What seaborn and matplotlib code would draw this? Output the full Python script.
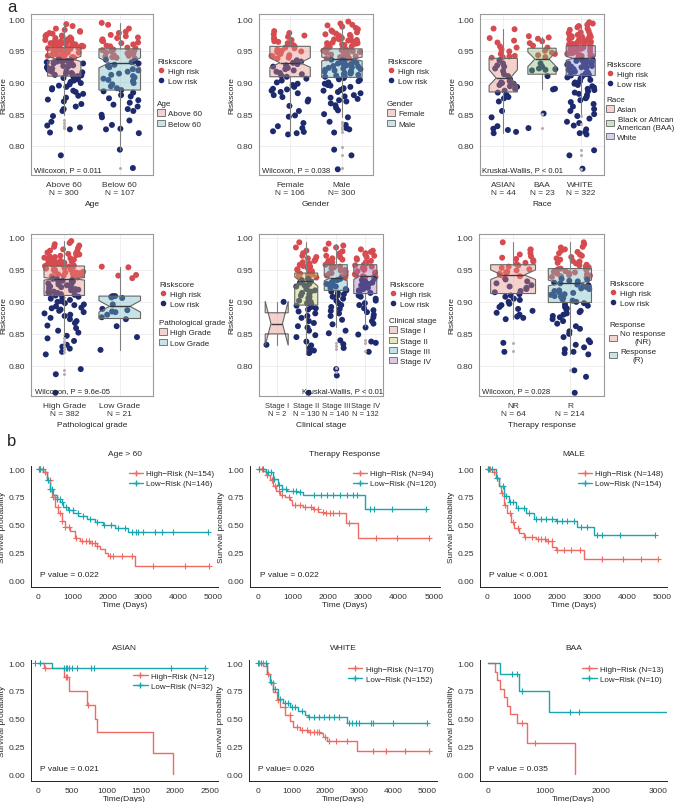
import numpy as np
import pandas as pd
import matplotlib
matplotlib.use("Agg")
import matplotlib.pyplot as plt
from matplotlib.lines import Line2D
from matplotlib.patches import Patch
from matplotlib.colors import to_rgba
import seaborn as sns

sns.set_style("white")
plt.rcParams['font.family'] = ['Liberation Sans', 'DejaVu Sans']
np.random.seed(3)

W, H = 676, 803
RED = '#D64B50'
NAVY = '#1E2A6E'
KM_RED = '#EE6B63'
KM_TEAL = '#1AA6AE'
FS = 6.0

# ---------------- panel a : riskscore points ----------------
above60_hi = [0.992, 0.989, 0.985, 0.983, 0.981, 0.980, 0.978, 0.977, 0.975, 0.974, 0.973, 0.972, 0.971, 0.970,
              0.969, 0.968, 0.967, 0.966, 0.965, 0.965, 0.964, 0.963, 0.962, 0.962, 0.961, 0.960, 0.960, 0.959,
              0.958, 0.958, 0.957, 0.956, 0.956, 0.955, 0.955, 0.954, 0.953, 0.953, 0.952, 0.951, 0.951, 0.950,
              0.949, 0.949, 0.948, 0.947, 0.947, 0.946, 0.945, 0.945, 0.944, 0.943, 0.943, 0.942, 0.941, 0.941,
              0.940, 0.939, 0.939, 0.938]
above60_lo = [0.936, 0.935, 0.935, 0.934, 0.933, 0.933, 0.932, 0.931, 0.930, 0.930, 0.929, 0.928, 0.927, 0.926,
              0.925, 0.924, 0.923, 0.922, 0.921, 0.920, 0.919, 0.918, 0.917, 0.916, 0.915, 0.914, 0.913, 0.912,
              0.911, 0.910, 0.909, 0.907, 0.905, 0.903, 0.901, 0.899, 0.897, 0.895, 0.893, 0.891, 0.889, 0.887,
              0.885, 0.882, 0.879, 0.876, 0.873, 0.870, 0.866, 0.862, 0.858, 0.855, 0.847, 0.838, 0.832, 0.829,
              0.826, 0.821, 0.785]
below60_hi = [0.994, 0.991, 0.985, 0.980, 0.978, 0.975, 0.973, 0.971, 0.970, 0.968, 0.966, 0.965, 0.963, 0.962,
              0.960, 0.958, 0.957, 0.955, 0.954, 0.952, 0.951, 0.950, 0.949, 0.948, 0.947, 0.946, 0.945, 0.944,
              0.943, 0.942, 0.941, 0.940, 0.939, 0.938]
below60_lo = [0.936, 0.934, 0.932, 0.930, 0.928, 0.926, 0.924, 0.921, 0.919, 0.917, 0.914, 0.912, 0.910, 0.908,
              0.906, 0.904, 0.902, 0.899, 0.897, 0.894, 0.891, 0.888, 0.886, 0.884, 0.880, 0.878, 0.875, 0.872,
              0.868, 0.865, 0.862, 0.858, 0.855, 0.849, 0.845, 0.840, 0.833, 0.827, 0.826, 0.820, 0.794, 0.765]

female_hi = [0.981, 0.978, 0.976, 0.974, 0.972, 0.970, 0.969, 0.967, 0.965, 0.964, 0.962, 0.960, 0.959, 0.957,
             0.955, 0.954, 0.952, 0.950, 0.949, 0.948, 0.946, 0.945, 0.943, 0.942, 0.941, 0.939, 0.938]
female_lo = [0.935, 0.933, 0.931, 0.929, 0.927, 0.925, 0.923, 0.921, 0.919, 0.917, 0.915, 0.913, 0.911, 0.909,
             0.906, 0.903, 0.900, 0.898, 0.896, 0.893, 0.890, 0.889, 0.887, 0.885, 0.883, 0.880, 0.877, 0.873,
             0.870, 0.863, 0.855, 0.848, 0.846, 0.836, 0.831, 0.828, 0.823, 0.822, 0.820, 0.818]
male_hi = [0.996, 0.993, 0.991, 0.990, 0.988, 0.986, 0.984, 0.982, 0.980, 0.979, 0.977, 0.976, 0.975, 0.974,
           0.972, 0.971, 0.970, 0.969, 0.968, 0.967, 0.966, 0.965, 0.964, 0.963, 0.962, 0.961, 0.960, 0.959,
           0.958, 0.957, 0.956, 0.955, 0.954, 0.953, 0.952, 0.951, 0.950, 0.949, 0.948, 0.947, 0.946, 0.945,
           0.944, 0.943, 0.942, 0.941, 0.940, 0.939, 0.938, 0.938, 0.968, 0.962, 0.956, 0.950, 0.944]
male_lo = [0.936, 0.935, 0.934, 0.933, 0.932, 0.931, 0.930, 0.929, 0.928, 0.927, 0.926, 0.925, 0.924, 0.923,
           0.922, 0.921, 0.920, 0.919, 0.918, 0.917, 0.916, 0.915, 0.914, 0.913, 0.912, 0.911, 0.910, 0.909,
           0.907, 0.905, 0.904, 0.902, 0.900, 0.898, 0.896, 0.895, 0.893, 0.891, 0.890, 0.888, 0.887, 0.885,
           0.883, 0.880, 0.878, 0.876, 0.874, 0.872, 0.870, 0.867, 0.864, 0.860, 0.856, 0.850, 0.845, 0.838,
           0.833, 0.828, 0.826, 0.821, 0.794, 0.785, 0.763]

asian_hi = [0.985, 0.984, 0.970, 0.966, 0.963, 0.957, 0.955, 0.952, 0.949, 0.945, 0.942, 0.941, 0.940, 0.939]
asian_lo = [0.935, 0.930, 0.927, 0.925, 0.922, 0.918, 0.913, 0.910, 0.905, 0.902, 0.900, 0.899, 0.898, 0.896,
            0.894, 0.893, 0.890, 0.887, 0.884, 0.880, 0.877, 0.875, 0.870, 0.855, 0.845, 0.831, 0.827, 0.825,
            0.822, 0.820]
baa_hi = [0.973, 0.971, 0.969, 0.965, 0.962, 0.958, 0.955, 0.950, 0.947, 0.945, 0.943, 0.940]
baa_lo = [0.930, 0.925, 0.922, 0.921, 0.920, 0.919, 0.910, 0.890, 0.889, 0.851, 0.828]
white_hi = [0.995, 0.993, 0.991, 0.989, 0.987, 0.985, 0.983, 0.981, 0.979, 0.978, 0.976, 0.975, 0.974, 0.973,
            0.972, 0.971, 0.970, 0.969, 0.968, 0.967, 0.966, 0.965, 0.964, 0.963, 0.962, 0.961, 0.960, 0.959,
            0.958, 0.957, 0.956, 0.955, 0.954, 0.953, 0.952, 0.951, 0.950, 0.949, 0.948, 0.947, 0.946, 0.945,
            0.944, 0.943, 0.942, 0.941, 0.940, 0.939, 0.938, 0.972, 0.966, 0.960, 0.954, 0.948, 0.942]
white_lo = [0.936, 0.935, 0.934, 0.933, 0.932, 0.931, 0.930, 0.929, 0.928, 0.927, 0.926, 0.925, 0.924, 0.923,
            0.922, 0.921, 0.920, 0.919, 0.918, 0.917, 0.916, 0.915, 0.914, 0.913, 0.912, 0.911, 0.910, 0.908,
            0.906, 0.904, 0.902, 0.900, 0.898, 0.896, 0.894, 0.892, 0.890, 0.888, 0.886, 0.884, 0.882, 0.880,
            0.877, 0.875, 0.872, 0.869, 0.866, 0.862, 0.858, 0.855, 0.850, 0.847, 0.843, 0.838, 0.836, 0.832,
            0.826, 0.822, 0.820, 0.818, 0.793, 0.785, 0.764]

highgrade_hi = [0.995, 0.992, 0.990, 0.988, 0.986, 0.984, 0.982, 0.980, 0.979, 0.977, 0.976, 0.975, 0.974, 0.973,
                0.972, 0.971, 0.970, 0.969, 0.968, 0.967, 0.966, 0.965, 0.964, 0.963, 0.962, 0.961, 0.960, 0.959,
                0.958, 0.957, 0.956, 0.955, 0.954, 0.953, 0.952, 0.951, 0.950, 0.949, 0.948, 0.947, 0.946, 0.945,
                0.944, 0.943, 0.942, 0.941, 0.940, 0.939, 0.938, 0.938, 0.966, 0.962, 0.958, 0.954, 0.950, 0.946]
highgrade_lo = [0.936, 0.935, 0.934, 0.933, 0.932, 0.931, 0.930, 0.929, 0.928, 0.927, 0.926, 0.925, 0.924, 0.923,
                0.922, 0.921, 0.920, 0.919, 0.918, 0.917, 0.916, 0.915, 0.914, 0.913, 0.912, 0.911, 0.910, 0.908,
                0.906, 0.905, 0.903, 0.901, 0.900, 0.898, 0.896, 0.895, 0.893, 0.891, 0.890, 0.888, 0.886, 0.884,
                0.882, 0.880, 0.878, 0.875, 0.873, 0.870, 0.867, 0.863, 0.859, 0.855, 0.852, 0.847, 0.843, 0.839,
                0.833, 0.830, 0.827, 0.822, 0.818, 0.795, 0.787, 0.758]
lowgrade_hi = [0.955, 0.954, 0.942, 0.941, 0.937]
lowgrade_lo = [0.909, 0.909, 0.908, 0.907, 0.906, 0.896, 0.889, 0.887, 0.885, 0.884, 0.880, 0.876, 0.873, 0.862,
               0.845, 0.825]

stage1_hi = []
stage1_lo = [0.900, 0.833]
stage2_hi = [0.993, 0.985, 0.980, 0.976, 0.972, 0.970, 0.968, 0.966, 0.964, 0.962, 0.960, 0.958, 0.956, 0.955,
             0.953, 0.951, 0.950, 0.948, 0.946, 0.945, 0.944, 0.943, 0.942, 0.941, 0.940, 0.939, 0.938]
stage2_lo = [0.936, 0.934, 0.932, 0.930, 0.928, 0.926, 0.924, 0.922, 0.920, 0.918, 0.916, 0.914, 0.912, 0.910,
             0.908, 0.906, 0.904, 0.902, 0.900, 0.898, 0.896, 0.894, 0.892, 0.890, 0.888, 0.885, 0.882, 0.878,
             0.875, 0.870, 0.867, 0.862, 0.860, 0.855, 0.848, 0.845, 0.838, 0.832, 0.828, 0.824, 0.821, 0.820,
             0.758]
stage3_hi = [0.991, 0.988, 0.985, 0.982, 0.979, 0.976, 0.974, 0.972, 0.970, 0.968, 0.966, 0.964, 0.962, 0.960,
             0.958, 0.957, 0.955, 0.954, 0.952, 0.950, 0.949, 0.947, 0.945, 0.944, 0.942, 0.941, 0.940, 0.938]
stage3_lo = [0.936, 0.934, 0.932, 0.930, 0.928, 0.926, 0.924, 0.922, 0.920, 0.918, 0.916, 0.914, 0.912, 0.910,
             0.908, 0.905, 0.902, 0.898, 0.895, 0.892, 0.889, 0.886, 0.882, 0.878, 0.872, 0.865, 0.855, 0.851,
             0.840, 0.834, 0.828, 0.795, 0.785]
stage4_hi = [0.982, 0.980, 0.978, 0.976, 0.974, 0.972, 0.970, 0.968, 0.966, 0.964, 0.962, 0.960, 0.958, 0.957,
             0.955, 0.953, 0.952, 0.950, 0.948, 0.946, 0.945, 0.943, 0.942, 0.940, 0.939, 0.938]
stage4_lo = [0.936, 0.934, 0.932, 0.930, 0.928, 0.926, 0.924, 0.922, 0.920, 0.918, 0.916, 0.914, 0.912, 0.910,
             0.908, 0.905, 0.902, 0.898, 0.895, 0.890, 0.887, 0.884, 0.880, 0.876, 0.870, 0.866, 0.860, 0.849,
             0.838, 0.836, 0.822]

nr_hi = [0.993, 0.982, 0.981, 0.976, 0.974, 0.971, 0.969, 0.967, 0.965, 0.963, 0.961, 0.959, 0.957, 0.955,
         0.953, 0.951, 0.949, 0.947, 0.946, 0.944, 0.942, 0.940, 0.938]
nr_lo = [0.935, 0.932, 0.929, 0.926, 0.924, 0.922, 0.920, 0.917, 0.915, 0.912, 0.910, 0.908, 0.905, 0.903,
         0.900, 0.897, 0.895, 0.892, 0.889, 0.886, 0.883, 0.880, 0.877, 0.875, 0.873, 0.836, 0.822]
r_hi = [0.993, 0.990, 0.986, 0.985, 0.982, 0.980, 0.978, 0.976, 0.974, 0.972, 0.970, 0.968, 0.966, 0.964,
        0.963, 0.961, 0.960, 0.958, 0.957, 0.955, 0.954, 0.952, 0.951, 0.950, 0.948, 0.947, 0.946, 0.945,
        0.944, 0.943, 0.942, 0.941, 0.940, 0.939, 0.938]
r_lo = [0.936, 0.935, 0.933, 0.932, 0.930, 0.929, 0.927, 0.926, 0.924, 0.923, 0.921, 0.920, 0.918, 0.917,
        0.915, 0.914, 0.912, 0.911, 0.909, 0.908, 0.906, 0.904, 0.902, 0.900, 0.898, 0.896, 0.894, 0.892,
        0.890, 0.888, 0.886, 0.884, 0.882, 0.880, 0.878, 0.876, 0.873, 0.870, 0.866, 0.862, 0.858, 0.854,
        0.850, 0.845, 0.840, 0.837, 0.833, 0.829, 0.826, 0.822, 0.820, 0.818, 0.793, 0.783, 0.758]

# box stats: (q1, median, q3, whisker low, whisker high, notch low, notch high)
age_box = [(0.910, 0.937, 0.955, 0.849, 0.993, 0.933, 0.941), (0.888, 0.931, 0.953, 0.793, 0.994, 0.923, 0.939)]
age_fliers = [[0.840, 0.836, 0.832, 0.828], [0.765]]
gender_box = [(0.909, 0.931, 0.957, 0.819, 0.981, 0.924, 0.939), (0.908, 0.937, 0.953, 0.845, 0.990, 0.934, 0.940)]
gender_fliers = [[], [0.838, 0.834, 0.830, 0.826, 0.822, 0.798, 0.785, 0.765]]
race_box = [(0.885, 0.907, 0.938, 0.820, 0.985, 0.895, 0.920), (0.913, 0.937, 0.954, 0.889, 0.972, 0.925, 0.948),
            (0.911, 0.938, 0.958, 0.850, 0.991, 0.935, 0.941)]
race_fliers = [[], [0.851, 0.828], [0.847, 0.835, 0.793, 0.785, 0.764]]
grade_box = [(0.910, 0.936, 0.956, 0.848, 0.995, 0.934, 0.938), (0.874, 0.893, 0.909, 0.825, 0.955, 0.884, 0.902)]
grade_fliers = [[0.843, 0.839, 0.835, 0.831, 0.827, 0.822, 0.793, 0.787], []]
stage_box = [(0.850, 0.866, 0.883, 0.833, 0.900, 0.832, 0.901), (0.895, 0.932, 0.945, 0.820, 0.993, 0.925, 0.939),
             (0.918, 0.937, 0.958, 0.860, 0.990, 0.933, 0.941), (0.913, 0.940, 0.958, 0.862, 0.977, 0.935, 0.945)]
stage_fliers = [[], [], [0.836, 0.831, 0.826, 0.797, 0.791], [0.841, 0.836, 0.823]]
resp_box = [(0.913, 0.942, 0.958, 0.873, 0.993, 0.935, 0.950), (0.899, 0.929, 0.952, 0.818, 0.993, 0.925, 0.934)]
resp_fliers = [[0.835, 0.823], [0.793]]

PINK, TEAL, GREEN, LAV = '#E68E82', '#75BBC0', '#82BB69', '#8E8ECD'
YEL, BLUE, PURP = '#C0C55C', '#69B4C5', '#A775B4'
LIGHT = {PINK: '#F5D2CD', TEAL: '#C8E4E6', GREEN: '#CDE4C3', LAV: '#D2D2EB',
         YEL: '#E6E8BE', BLUE: '#C3E1E8', PURP: '#DCC8E1'}


def px_axes(l, t, r, b):
    return fig.add_axes([l / W, 1 - b / H, (r - l) / W, (b - t) / H])


def box_panel(rect, cats, ticklabels, hi, lo, box, fliers, fills, widths, ylim, xlabel, note, note_x,
              leg_title, leg_labels, leg_x, leg_y1, leg_y2, tick_fs=FS):
    ax = px_axes(*rect)
    rows = []
    for c, h, l in zip(cats, hi, lo):
        rows += [(c, v, 'High risk') for v in h]
        rows += [(c, v, 'Low risk') for v in l]
    df = pd.DataFrame(rows, columns=['grp', 'score', 'risk'])
    sns.stripplot(data=df, x='grp', y='score', hue='risk', order=cats, hue_order=['High risk', 'Low risk'],
                  palette=[RED, NAVY], jitter=0.36, size=4.3, linewidth=0, ax=ax, legend=False, zorder=1)
    stats = [dict(q1=b[0], med=b[1], q3=b[2], whislo=b[3], whishi=b[4], cilo=b[5], cihi=b[6],
                  fliers=np.array(f)) for b, f in zip(box, fliers)]
    bp = ax.bxp(stats, positions=range(len(cats)), widths=widths, patch_artist=True, shownotches=True,
                showcaps=False, manage_ticks=False, zorder=3,
                boxprops=dict(edgecolor='#666666', linewidth=0.8),
                whiskerprops=dict(color='#808080', linewidth=0.8),
                medianprops=dict(color='#3A3A3A', linewidth=1.0),
                flierprops=dict(marker='o', markersize=2.2, markerfacecolor='#B8AEAE', markeredgecolor='none'))
    for patch, fc in zip(bp['boxes'], fills):
        patch.set_facecolor(to_rgba(fc, 0.4))
    ax.set_xlim(-0.6, len(cats) - 0.4)
    ax.set_ylim(*ylim)
    ax.set_yticks([0.80, 0.85, 0.90, 0.95, 1.00])
    ax.set_yticklabels(['0.80', '0.85', '0.90', '0.95', '1.00'])
    ax.set_xticks(range(len(cats)))
    ax.set_xticklabels(ticklabels, fontsize=tick_fs, color='#333333', linespacing=1.35)
    ax.tick_params(axis='y', labelsize=FS, labelcolor='#333333', length=2.5, color='#555555', width=0.6, pad=1.5)
    ax.tick_params(axis='x', length=2.5, color='#555555', width=0.6, pad=1.5)
    ax.grid(True, color='#ECECEC', linewidth=0.6, zorder=0)
    ax.set_axisbelow(True)
    for s in ax.spines.values():
        s.set_color('#9A9A9A')
        s.set_linewidth(0.8)
    width_px = rect[2] - rect[0]
    ax.set_xlabel(xlabel, fontsize=FS, labelpad=3)
    ax.set_ylabel('Riskscore', fontsize=FS)
    ax.yaxis.set_label_coords(-24 / width_px, 0.5)
    ax.text(note_x, 0.035, note, transform=ax.transAxes, fontsize=5.5, color='#222222', va='center', zorder=5)

    h1 = [Line2D([], [], marker='o', ls='', color=RED, markersize=3.0),
          Line2D([], [], marker='o', ls='', color=NAVY, markersize=3.0)]
    fig.legend(h1, ['High risk', 'Low risk'], title='Riskscore', loc='upper left',
               bbox_to_anchor=(leg_x / W, 1 - leg_y1 / H), frameon=False, fontsize=5.8, title_fontsize=5.8,
               handlelength=1.0, handletextpad=0.4, labelspacing=0.3, borderpad=0, borderaxespad=0,
               alignment='left')
    h2 = [Patch(facecolor=LIGHT[f], edgecolor='#777777', linewidth=0.7) for f in fills]
    leg = fig.legend(h2, leg_labels, title=leg_title, loc='upper left',
                     bbox_to_anchor=(leg_x / W, 1 - leg_y2 / H), frameon=False, fontsize=5.8, title_fontsize=5.8,
                     handlelength=1.0, handleheight=0.8, handletextpad=0.4, labelspacing=0.3, borderpad=0,
                     borderaxespad=0, alignment='left')
    for t in leg.get_texts():
        t.set_multialignment('center')
    return ax


# ---------------- panel b : Kaplan-Meier steps ----------------
age_hi_t = [0, 152, 248, 343, 390, 486, 581, 676, 771, 914, 1057, 1200, 1486, 1676, 1771, 1914, 2010, 2771]
age_hi_s = [1.0, 0.97, 0.90, 0.80, 0.75, 0.66, 0.60, 0.53, 0.48, 0.44, 0.38, 0.35, 0.33, 0.31, 0.28, 0.24, 0.22, 0.13]
age_hi_c = [30, 60, 200, 280, 330, 420, 480, 560, 620, 700, 780, 900, 1100, 1250, 1380, 1450, 1550, 1620, 1700,
            2050, 2150, 2400, 2700, 3300, 4200, 4880]
age_lo_t = [0, 152, 248, 343, 438, 533, 629, 724, 867, 1010, 1152, 1390, 1629, 1867, 2200, 2581]
age_lo_s = [1.0, 0.97, 0.90, 0.82, 0.77, 0.73, 0.70, 0.66, 0.63, 0.60, 0.58, 0.55, 0.52, 0.50, 0.47, 0.43]
age_lo_c = [20, 60, 150, 300, 350, 400, 550, 620, 700, 800, 900, 1000, 1150, 1300, 1500, 1700, 1900, 2100, 2300,
            2500, 2700, 2800, 2850, 3000, 3350, 3550, 3850, 4850]

ther_hi_t = [0, 152, 248, 343, 438, 533, 629, 771, 914, 962, 1295, 1581, 1724, 1867, 2514, 2838]
ther_hi_s = [1.0, 0.98, 0.95, 0.90, 0.85, 0.80, 0.77, 0.75, 0.72, 0.68, 0.66, 0.64, 0.61, 0.60, 0.51, 0.38]
ther_hi_c = [30, 120, 250, 400, 500, 600, 700, 900, 1050, 1200, 1350, 1500, 1600, 1700, 1850, 1950, 2050, 2150,
             2300, 2600, 3350, 3950, 4870]
ther_lo_t = [0, 248, 438, 581, 676, 819, 1105, 1295, 3057]
ther_lo_s = [1.0, 0.97, 0.91, 0.86, 0.82, 0.80, 0.79, 0.77, 0.64]
ther_lo_c = [40, 150, 300, 380, 450, 600, 700, 800, 1000, 1100, 1200, 1600, 1800, 1960, 2150, 2340, 2530, 2720,
             2820, 3200, 3300, 3820, 4770]

male_hi_t = [0, 152, 248, 343, 390, 486, 581, 676, 771, 914, 1057, 1390, 1676, 1867, 1962, 2771]
male_hi_s = [1.0, 0.97, 0.92, 0.85, 0.78, 0.68, 0.60, 0.52, 0.47, 0.42, 0.39, 0.37, 0.35, 0.30, 0.27, 0.19]
male_hi_c = [30, 80, 200, 300, 420, 520, 650, 750, 900, 1100, 1300, 1450, 1550, 1650, 1750, 1850, 2000, 2200,
             2400, 2650, 3300, 3900, 4400, 4890]
male_lo_t = [0, 248, 343, 486, 629, 819, 1105, 1343, 1962, 2581, 3057]
male_lo_s = [1.0, 0.92, 0.85, 0.76, 0.70, 0.65, 0.60, 0.55, 0.53, 0.48, 0.41]
male_lo_c = [20, 60, 150, 300, 450, 550, 650, 750, 900, 1050, 1200, 1400, 1550, 1700, 1850, 2000, 2150, 2300,
             2500, 2700, 2850, 3150, 3300, 3800, 4820]

asian_hi_t = [0, 88, 380, 453, 711, 833, 867, 1671, 1964]
asian_hi_s = [1.0, 0.955, 0.87, 0.75, 0.625, 0.50, 0.375, 0.1875, 0.0]
asian_hi_c = [97, 405, 420, 735]
asian_lo_t = [0, 210]
asian_lo_s = [1.0, 0.955]
asian_lo_c = [-40, 30, 380, 404, 429, 453, 502, 575, 770, 819, 1940, 2427]

white_hi_t = [0, 168, 266, 365, 464, 562, 661, 809, 957, 1055, 1252, 1499, 1844, 1943, 2041, 2929]
white_hi_s = [1.0, 0.97, 0.90, 0.82, 0.74, 0.67, 0.60, 0.53, 0.48, 0.42, 0.40, 0.38, 0.37, 0.33, 0.30, 0.21]
white_hi_c = [30, 150, 300, 450, 600, 800, 950, 1150, 1300, 1450, 1550, 1650, 1750, 1800, 2000, 2100, 2300,
              2650, 3400, 3800, 4350, 5050]
white_lo_t = [0, 266, 365, 464, 611, 759, 957, 1203, 1400, 1499, 2633]
white_lo_s = [1.0, 0.90, 0.83, 0.77, 0.68, 0.64, 0.60, 0.57, 0.53, 0.51, 0.46]
white_lo_c = [20, 100, 250, 380, 500, 650, 800, 900, 1000, 1100, 1300, 1500, 1650, 1800, 1950, 2100, 2250,
              2400, 2700, 2800, 2900, 3000, 3350, 3400, 4000, 5000]

baa_hi_t = [0, 129, 159, 218, 276, 335, 394, 512, 688, 1541]
baa_hi_s = [1.0, 0.923, 0.846, 0.769, 0.692, 0.615, 0.538, 0.462, 0.277, 0.0]
baa_hi_c = [600, 835]
baa_lo_t = [0, 218, 541, 1070]
baa_lo_s = [1.0, 0.90, 0.75, 0.5625]
baa_lo_c = [424, 512, 600, 1450, 1600]


def km_panel(rect, curves, title, pval, xlim, xticks, xlabel, leg_top):
    ax = px_axes(*rect)
    handles = []
    for t, s, end, cens, color, label in curves:
        tt = list(t) + [end]
        ss = list(s) + [s[-1]]
        sns.lineplot(x=tt, y=ss, drawstyle='steps-post', color=color, linewidth=1.0, ax=ax,
                     estimator=None, sort=False)
        idx = np.searchsorted(np.array(t), np.array(cens), side='right') - 1
        cy = np.array(s)[np.clip(idx, 0, None)]
        sns.scatterplot(x=cens, y=cy, marker='+', color=color, s=14, linewidth=0.8, ax=ax, zorder=4)
        handles.append(Line2D([], [], color=color, marker='+', lw=1.0, markersize=4.5, label=label))
    ax.set_xlim(*xlim)
    ax.set_ylim(-0.063, 1.03)
    ax.set_yticks([0, 0.25, 0.5, 0.75, 1.0])
    ax.set_yticklabels(['0.00', '0.25', '0.50', '0.75', '1.00'])
    ax.set_xticks(xticks)
    ax.tick_params(labelsize=FS, labelcolor='#333333', length=2.5, width=0.6, pad=1.5)
    for side in ['top', 'right']:
        ax.spines[side].set_visible(False)
    for side in ['left', 'bottom']:
        ax.spines[side].set_color('#222222')
        ax.spines[side].set_linewidth(0.7)
    width_px = rect[2] - rect[0]
    ax.set_xlabel(xlabel, fontsize=FS, labelpad=1)
    ax.set_ylabel('Survival probability', fontsize=FS)
    ax.yaxis.set_label_coords(-25 / width_px, 0.5)
    ax.set_title(title, fontsize=FS, pad=8)
    ax.text(0.05, 0.05, pval, transform=ax.get_yaxis_transform(), fontsize=6.0, va='center', color='#222222')
    ax.legend(handles=handles, loc='upper right', bbox_to_anchor=(0.99, leg_top), frameon=False, fontsize=5.8,
              handlelength=1.8, handletextpad=0.4, labelspacing=0.3, borderpad=0.2, borderaxespad=0)
    return ax


fig = plt.figure(figsize=(W / 100, H / 100), dpi=100)

ylim1 = (0.754, 1.008)
ylim2 = (0.753, 1.006)
box_panel((31, 15, 153, 176), ['Above 60', 'Below 60'], ['Above 60\nN = 300', 'Below 60\nN = 107'],
          [above60_hi, below60_hi], [above60_lo, below60_lo], age_box, age_fliers, [PINK, TEAL], [0.6, 0.75],
          ylim1, 'Age', 'Wilcoxon, P = 0.011', 0.025, 'Age', ['Above 60', 'Below 60'], 157, 59, 101)
box_panel((259, 15, 373, 176), ['Female', 'Male'], ['Female\nN = 106', 'Male\nN= 300'],
          [female_hi, male_hi], [female_lo, male_lo], gender_box, gender_fliers, [PINK, TEAL], [0.78, 0.78],
          ylim1, 'Gender', 'Wilcoxon, P = 0.038', 0.03, 'Gender', ['Female', 'Male'], 387, 59, 101)
box_panel((480, 15, 604, 176), ['ASIAN', 'BAA', 'WHITE'], ['ASIAN\nN = 44', 'BAA\nN = 23', 'WHITE\nN = 322'],
          [asian_hi, baa_hi, white_hi], [asian_lo, baa_lo, white_lo], race_box, race_fliers,
          [PINK, GREEN, LAV], [0.73, 0.73, 0.75], ylim1, 'Race', 'Kruskal-Wallis, P < 0.01', 0.02, 'Race',
          ['Asian', 'Black or African\nAmerican (BAA)', 'White'], 606, 62, 97)
box_panel((31, 235, 153, 397), ['High Grade', 'Low Grade'], ['High Grade\nN = 382', 'Low Grade\nN = 21'],
          [highgrade_hi, lowgrade_hi], [highgrade_lo, lowgrade_lo], grade_box, grade_fliers, [PINK, TEAL],
          [0.73, 0.75], ylim2, 'Pathological grade', 'Wilcoxon, P = 9.6e-05', 0.03, 'Pathological grade',
          ['High Grade', 'Low Grade'], 159, 282, 320)
box_panel((259, 235, 383, 397), ['Stage I', 'Stage II', 'Stage III', 'Stage IV'],
          ['Stage I\nN = 2', 'Stage II\nN = 130', 'Stage III\nN = 140', 'Stage IV\nN = 132'],
          [stage1_hi, stage2_hi, stage3_hi, stage4_hi], [stage1_lo, stage2_lo, stage3_lo, stage4_lo],
          stage_box, stage_fliers, [PINK, YEL, BLUE, PURP], [0.78, 0.78, 0.78, 0.78], ylim2, 'Clinical stage',
          'Kruskal-Wallis, P < 0.01', 0.35, 'Clinical stage', ['Stage I', 'Stage II', 'Stage III', 'Stage IV'],
          389, 282, 318, tick_fs=5.4)
box_panel((479, 235, 604, 397), ['NR', 'R'], ['NR\nN = 64', 'R\nN = 214'],
          [nr_hi, r_hi], [nr_lo, r_lo], resp_box, resp_fliers, [PINK, TEAL], [0.79, 0.76], ylim2,
          'Therapy response', 'Wilcoxon, P = 0.028', 0.025, 'Response',
          ['No response\n(NR)', 'Response\n(R)'], 609, 281, 322)

fig.text(7 / W, 1 - 7 / H, 'a', fontsize=12, va='center', ha='left')
fig.text(7 / W, 1 - 442 / H, 'b', fontsize=12, va='center', ha='left')

t5 = [0, 1000, 2000, 3000, 4000, 5000]
km_panel((31, 466.7, 218, 588),
         [(age_hi_t, age_hi_s, 4895, age_hi_c, KM_RED, 'High\u2212Risk (N=154)'),
          (age_lo_t, age_lo_s, 4867, age_lo_c, KM_TEAL, 'Low\u2212Risk (N=146)')],
         'Age > 60', 'P value = 0.022', (-200, 5150), t5, 'Time (Days)', 0.98)
km_panel((250, 466.7, 440, 588),
         [(ther_hi_t, ther_hi_s, 4870, ther_hi_c, KM_RED, 'High\u2212Risk (N=94)'),
          (ther_lo_t, ther_lo_s, 4771, ther_lo_c, KM_TEAL, 'Low\u2212Risk (N=120)')],
         'Therapy Response', 'P value = 0.022', (-220, 5180), t5, 'Time (Days)', 0.98)
km_panel((480, 466.7, 667, 588),
         [(male_hi_t, male_hi_s, 4895, male_hi_c, KM_RED, 'High\u2212Risk (N=148)'),
          (male_lo_t, male_lo_s, 4819, male_lo_c, KM_TEAL, 'Low\u2212Risk (N=154)')],
         'MALE', 'P value < 0.001', (-200, 5150), t5, 'Time (Days)', 0.98)
km_panel((31, 660.7, 218, 782),
         [(asian_hi_t, asian_hi_s, 1964, asian_hi_c, KM_RED, 'High\u2212Risk (N=12)'),
          (asian_lo_t, asian_lo_s, 2427, asian_lo_c, KM_TEAL, 'Low\u2212Risk (N=32)')],
         'ASIAN', 'P value = 0.021', (-100, 2620), [0, 500, 1000, 1500, 2000, 2500], 'Time(Days)', 0.91)
km_panel((249, 660.7, 437, 782),
         [(white_hi_t, white_hi_s, 5049, white_hi_c, KM_RED, 'High\u2212Risk (N=170)'),
          (white_lo_t, white_lo_s, 5000, white_lo_c, KM_TEAL, 'Low\u2212Risk (N=152)')],
         'WHITE', 'P value= 0.026', (-260, 5300), t5, 'Time(Days)', 0.97)
km_panel((480, 660.7, 667, 782),
         [(baa_hi_t, baa_hi_s, 1541, baa_hi_c, KM_RED, 'High\u2212Risk (N=13)'),
          (baa_lo_t, baa_lo_s, 3160, baa_lo_c, KM_TEAL, 'Low\u2212Risk (N=10)')],
         'BAA', 'P value = 0.035', (-140, 3160), [0, 1000, 2000, 3000], 'Time(Days)', 0.97)

fig.savefig('out.png', dpi=100)
